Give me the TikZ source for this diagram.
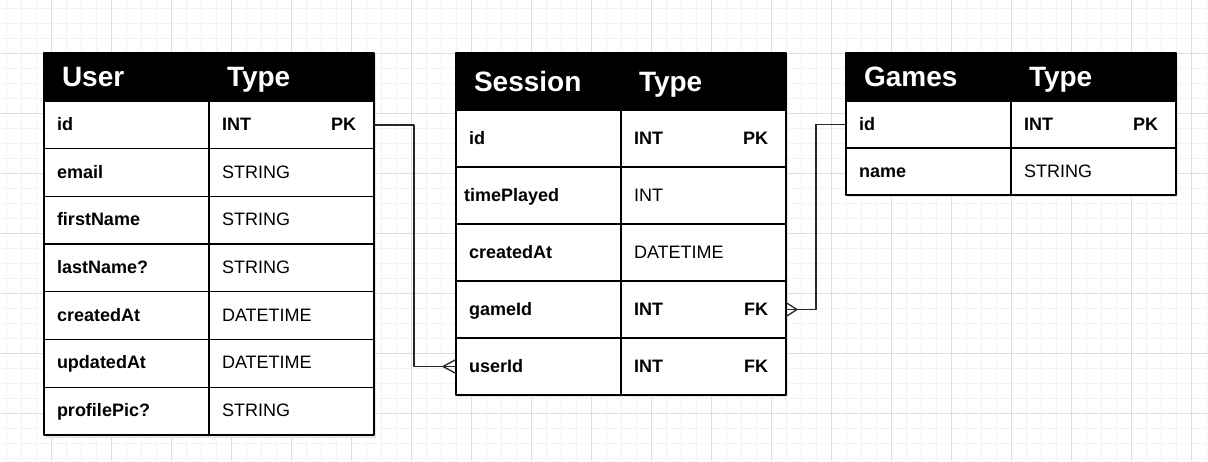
\documentclass[tikz,border=0pt]{standalone}
\usepackage{fontspec}
\setmainfont{Liberation Sans}
\usetikzlibrary{positioning}
\definecolor{gridminor}{HTML}{F2F2F2}
\definecolor{gridmajor}{HTML}{DDDDDD}
\newcommand\keyfill{\hskip 0pt plus 1fill\relax}
\tikzset{
  cell/.style={draw,fill=white,line width=0.65pt,anchor=north west,outer sep=0pt,
    inner xsep=6.5pt,inner ysep=0pt,minimum width=82.5pt,text width=69.5pt,align=left,
    text height=7.4pt,text depth=1.9pt,font=\fontsize{9}{11}\selectfont},
  head/.style={cell,fill=black,text=white,inner xsep=9pt,text width=64.5pt,
    text height=12.6pt,text depth=2.9pt,font=\fontsize{14}{16}\selectfont\bfseries},
  shade/.style={fill=black!10},
  link/.style={draw=black!85,line width=0.65pt},
}
\begin{document}
\begin{tikzpicture}[x=0.5pt,y=-0.5pt,line join=round]
  \fill[white] (0,0) rectangle (1208,461);
  \useasboundingbox (0,0) rectangle (1208,461);
  % grid
  \foreach \x in {6,21,...,1206} \draw[gridminor,line width=0.5pt] (\x,0) -- (\x,461);
  \foreach \y in {8,23,...,458} \draw[gridminor,line width=0.5pt] (0,\y) -- (1208,\y);
  \foreach \x in {51,111,...,1191} \draw[gridmajor,line width=0.5pt] (\x,0) -- (\x,461);
  \foreach \y in {53,113,...,413} \draw[gridmajor,line width=0.5pt] (0,\y) -- (1208,\y);
  % shadows
  \fill[shade] (46,55) rectangle (376,438);
  \fill[shade] (458,55) rectangle (788,397);
  \fill[shade] (848,55) rectangle (1178,197);
  % User
  \node[head,minimum height=24pt] (user-0-name) at (44,53) {User};
  \node[head,minimum height=24pt,right=0pt of user-0-name] (user-0-type) {Type};
  \foreach \n/\t/\k/\w [count=\i] in {id/INT/PK/\bfseries,email/STRING//\mdseries,
      firstName/STRING//\mdseries,lastName?/STRING//\mdseries,createdAt/DATETIME//\mdseries,
      updatedAt/DATETIME//\mdseries,profilePic?/STRING//\mdseries}
  {\node[cell,minimum height=23.85pt] (user-\i-name) at (44,{101+(\i-1)*47.7}) {\bfseries\n};
   \node[cell,minimum height=23.85pt,right=0pt of user-\i-name] (user-\i-type)
     {\w\t\keyfill\k\rule{2.5pt}{0pt}};
  }
  % Session
  \node[head,minimum height=28.5pt] (session-0-name) at (456,53) {Session};
  \node[head,minimum height=28.5pt,right=0pt of session-0-name] (session-0-type) {Type};
  \foreach \n/\t/\k/\w/\s [count=\i] in {id/INT/PK/\bfseries/0,timePlayed/INT//\mdseries/-2.5,
      createdAt/DATETIME//\mdseries/0,gameId/INT/FK/\bfseries/0,userId/INT/FK/\bfseries/0}
  {\node[cell,minimum height=28.5pt] (session-\i-name) at (456,{110+(\i-1)*57})
     {\hspace*{\s pt}\bfseries\n};
   \node[cell,minimum height=28.5pt,right=0pt of session-\i-name] (session-\i-type)
     {\w\t\keyfill\k\rule{2.5pt}{0pt}};
  }
  % Games
  \node[head,minimum height=24pt] (games-0-name) at (846,53) {Games};
  \node[head,minimum height=24pt,right=0pt of games-0-name] (games-0-type) {Type};
  \foreach \n/\t/\k/\w [count=\i] in {id/INT/PK/\bfseries,name/STRING//\mdseries}
  {\node[cell,minimum height=23.5pt] (games-\i-name) at (846,{101+(\i-1)*47}) {\bfseries\n};
   \node[cell,minimum height=23.5pt,right=0pt of games-\i-name] (games-\i-type)
     {\w\t\keyfill\k\rule{2.5pt}{0pt}};
  }
  % relations
  \draw[link] (user-1-type.east) -- ++(40,0) |- (session-5-name.west);
  \draw[link] (session-5-name.west) ++(-13,0) -- ++(13,7) ++(-13,-7) -- ++(13,-7);
  \draw[link] (games-1-name.west) -- ++(-30,0) |- (session-4-type.east);
  \draw[link] (session-4-type.east) ++(11,0) -- ++(-11,7) ++(11,-7) -- ++(-11,-7);
\end{tikzpicture}
\end{document}
